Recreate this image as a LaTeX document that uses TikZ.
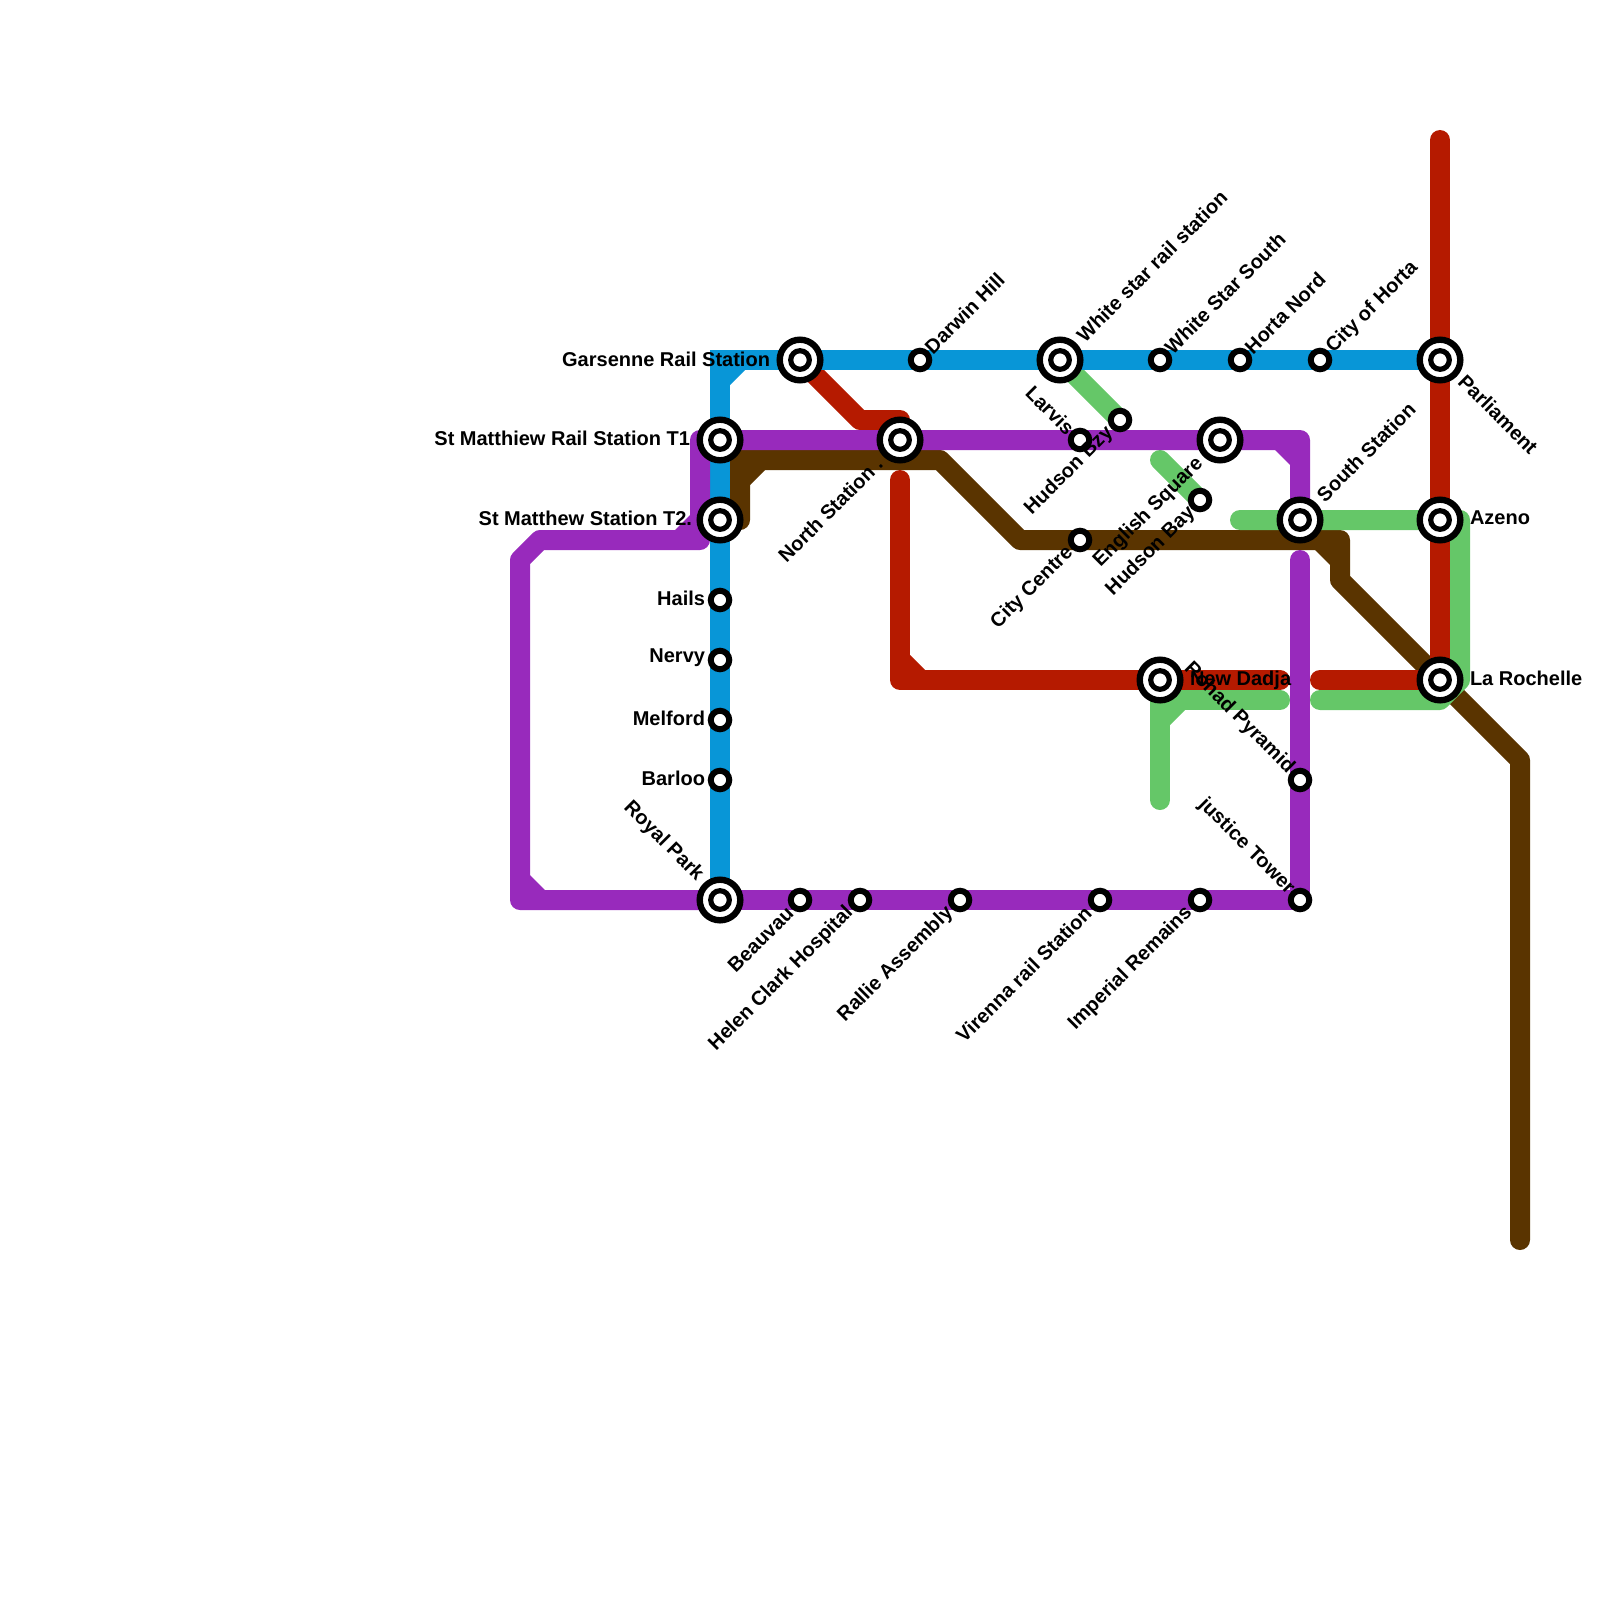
\documentclass[tikz,border=0pt]{standalone}
\usepackage{fontspec}
\setmainfont{Liberation Sans}
\pgfdeclarelayer{lines}
\pgfsetlayers{lines,main}
\definecolor{cblue}{HTML}{0896D7}
\definecolor{cred}{HTML}{B51A00}
\definecolor{cpurple}{HTML}{982ABC}
\definecolor{cbrown}{HTML}{5A3400}
\definecolor{cgreen}{HTML}{65C768}
\tikzset{
  metro/.style={line width=20,line join=round,line cap=round},
  metrosq/.style={line width=20,line join=miter,line cap=butt},
  ringouter/.style={circle,draw=black,fill=white,line width=6.4,minimum size=40.6,inner sep=0,outer sep=0},
  bigst/.style={circle,draw=black,fill=white,line width=5.2,minimum size=18.6,inner sep=0,outer sep=0},
  smallst/.style={circle,draw=black,fill=white,line width=6,minimum size=18.5,inner sep=0,outer sep=0},
  lab/.style={font=\fontsize{20}{22}\selectfont\bfseries,text=black,inner sep=0,outer sep=0},
  labur/.style={lab,rotate=45,anchor=west},
  labdl/.style={lab,rotate=45,anchor=east},
  labdr/.style={lab,rotate=-45,anchor=west},
  labul/.style={lab,rotate=-45,anchor=east},
  labl/.style={lab,anchor=east},
  labr/.style={lab,anchor=west},
}
\newcommand{\bigstation}[2]{%
  \node[ringouter] (#1ring) at (#2) {};
  \node[bigst] (#1) at (#2) {};
}
\begin{document}
\begin{tikzpicture}[x=1pt,y=-1pt]
\useasboundingbox (0,0) rectangle (1600,1600);
% stations
\bigstation{garsenne}{800,360}
\bigstation{tone}{720,440}
\bigstation{ttwo}{720,520}
\bigstation{north}{900,440}
\bigstation{whitestar}{1060,360}
\bigstation{english}{1220,440}
\bigstation{south}{1300,520}
\bigstation{parliament}{1440,360}
\bigstation{azeno}{1440,520}
\bigstation{rochelle}{1440,680}
\bigstation{dadja}{1160,680}
\bigstation{royal}{720,900}
\node[smallst] (hails) at (720,600) {};
\node[smallst] (nervy) at (720,660) {};
\node[smallst] (melford) at (720,720) {};
\node[smallst] (barloo) at (720,780) {};
\node[smallst] (darwin) at (920,360) {};
\node[smallst] (wsouth) at (1160,360) {};
\node[smallst] (horta) at (1240,360) {};
\node[smallst] (cityhorta) at (1320,360) {};
\node[smallst] (bzy) at (1120,420) {};
\node[smallst] (larvis) at (1080,440) {};
\node[smallst] (centre) at (1080,540) {};
\node[smallst] (hudbay) at (1200,500) {};
\node[smallst] (beauvau) at (800,900) {};
\node[smallst] (helen) at (860,900) {};
\node[smallst] (rallie) at (960,900) {};
\node[smallst] (virenna) at (1100,900) {};
\node[smallst] (imperial) at (1200,900) {};
\node[smallst] (justice) at (1300,900) {};
\node[smallst] (rohad) at (1300,780) {};
% labels
\node[labl] (l1) at (770,359) {Garsenne Rail Station};
\node[labl] (l2) at (690,438) {St Matthiew Rail Station T1};
\node[labl] (l3) at (692,518) {St Matthew Station T2.};
\node[labl] (l4) at (705,598) {Hails};
\node[labl] (l5) at (705,658) {Nervy};
\node[labl] (l6) at (705,718) {Melford};
\node[labl] (l7) at (705,778) {Barloo};
\node[labr] (l8) at (1470,518) {Azeno};
\node[labr] (l9) at (1470,678) {La Rochelle};
\node[labr] (l10) at (1190,680) {New Dadja};
\node[labur] (l11) at (928,350) {Darwin Hill};
\node[labur] (l12) at (1080,338) {White star rail station};
\node[labur] (l13) at (1168,350) {White Star South};
\node[labur] (l14) at (1248,350) {Horta Nord};
\node[labur] (l15) at (1330,350) {City of Horta};
\node[labur] (l16) at (1320,498) {South Station};
\node[labdr] (l17) at (1462,378) {Parliament};
\node[labdl] (l18) at (1200,461) {English Square};
\node[labdl] (l19) at (1192,510) {Hudson Bay};
\node[labdl] (l20) at (1110,430) {Hudson Bzy};
\node[labdl] (l21) at (1070,550) {City Centre};
\node[labdl] (l22) at (879,461) {North Station .};
\node[labdl] (l23) at (790,910) {Beauvau};
\node[labdl] (l24) at (850,910) {Helen Clark Hospital};
\node[labdl] (l25) at (950,910) {Rallie Assembly};
\node[labdl] (l26) at (1088,910) {Virenna rail Station};
\node[labdl] (l27) at (1189,910) {Imperial Remains};
\node[labul] (l28) at (700,878) {Royal Park};
\node[labul] (l29) at (1071,431) {Larvis};
\node[labul] (l30) at (1291,770) {Rohad Pyramid};
\node[labul] (l31) at (1291,891) {justice Tower};
% bends
\coordinate (bluecorner) at (720,360);
\coordinate (redtop) at (1440,140);
\coordinate (red1) at (860,420);
\coordinate (red2) at (900,420);
\coordinate (red3) at (900,480);
\coordinate (red4) at (900,680);
\coordinate (red5) at (1280,680);
\coordinate (red6) at (1320,680);
\coordinate (pu1) at (520,900);
\coordinate (pu2) at (520,560);
\coordinate (pu3) at (540,540);
\coordinate (pu4) at (700,540);
\coordinate (pu5) at (700,440);
\coordinate (pu6) at (1300,440);
\coordinate (pu7) at (1300,560);
\coordinate (br1) at (740,520);
\coordinate (br2) at (740,460);
\coordinate (br3) at (940,460);
\coordinate (br4) at (1020,540);
\coordinate (br5) at (1340,540);
\coordinate (br6) at (1340,580);
\coordinate (br7) at (1520,760);
\coordinate (br8) at (1520,1240);
\coordinate (gr1) at (1240,520);
\coordinate (gr2) at (1460,520);
\coordinate (gr3) at (1460,680);
\coordinate (gr4) at (1440,700);
\coordinate (gr5) at (1320,700);
\coordinate (gr6) at (1160,800);
\coordinate (gr7) at (1160,700);
\coordinate (gr8) at (1280,700);
\coordinate (gr9) at (1160,460);
\begin{pgfonlayer}{lines}
% brown
\draw[metro,cbrown] (br1)--(br2)--(br3)--(br4)--(br5)--(br6)--(br7)--(br8);
\fill[cbrown] (750,470)--(765,470)--(750,485)--cycle;
\fill[cbrown] (1315,550)--(1330,550)--(1330,565)--cycle;
% red
\draw[metro,cred] (redtop)--(rochelle.center);
\draw[metro,cred] (garsenne.center)--(red1)--(red2)--(north.center);
\draw[metro,cred] (red3)--(red4)--(red5);
\fill[cred] (910,670)--(910,655)--(925,670)--cycle;
\draw[metro,cred] (red6)--(rochelle.center);
% green
\draw[metro,cgreen] (whitestar.center)--(bzy.center);
\draw[metro,cgreen] (gr9)--(hudbay.center);
\draw[metro,cgreen] (gr1)--(gr2)--(gr3)--(gr4)--(gr5);
\draw[metro,cgreen] (gr6)--(gr7)--(gr8);
\fill[cgreen] (1170,710)--(1185,710)--(1170,725)--cycle;
% blue
\draw[metrosq,cblue] (royal.center)--(bluecorner)--(parliament.center);
\fill[cblue] (730,370)--(745,370)--(730,385)--cycle;
% purple
\draw[metro,cpurple] (royal.center)--(pu1)--(pu2)--(pu3)--(pu4)--(pu5)--(pu6)--(south.center);
\draw[metro,cpurple] (pu7)--(justice.center)--(royal.center);
\fill[cpurple] (1290,450)--(1275,450)--(1290,465)--cycle;
\fill[cpurple] (530,890)--(530,875)--(545,890)--cycle;
\fill[cpurple] (690,530)--(675,530)--(690,515)--cycle;
\end{pgfonlayer}
\end{tikzpicture}
\end{document}
